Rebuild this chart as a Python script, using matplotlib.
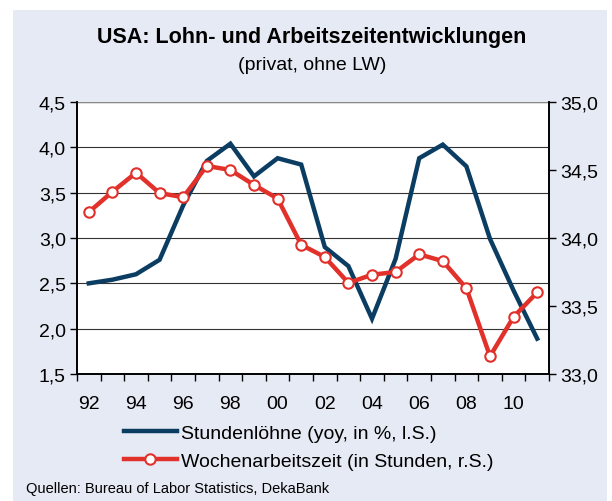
import matplotlib
matplotlib.use("Agg")
import matplotlib.pyplot as plt
import numpy as np
from matplotlib.ticker import FuncFormatter, FixedLocator
from matplotlib.lines import Line2D

plt.rcParams['font.family'] = ['Liberation Sans', 'DejaVu Sans']

years = list(range(1992, 2012))
tick_labels = ["92", "94", "96", "98", "00", "02", "04", "06", "08", "10"]
wages = [2.50, 2.54, 2.60, 2.76, 3.36, 3.85, 4.04, 3.68, 3.88, 3.81,
         2.90, 2.69, 2.11, 2.77, 3.88, 4.03, 3.79, 2.99, 2.42, 1.89]
hours = [34.19, 34.34, 34.48, 34.33, 34.30, 34.53, 34.50, 34.39, 34.29, 33.95,
         33.86, 33.67, 33.73, 33.75, 33.88, 33.83, 33.63, 33.13, 33.42, 33.60]

label_wages = "Stundenlöhne (yoy, in %, l.S.)"
label_hours = "Wochenarbeitszeit (in Stunden, r.S.)"
title = "USA: Lohn- und Arbeitszeitentwicklungen"
subtitle = "(privat, ohne LW)"
source = "Quellen: Bureau of Labor Statistics, DekaBank"

blue = "#0B3D62"
red = "#E2302A"
bg = "#E6EAF4"
FS = 14

fig = plt.figure(figsize=(6.12, 5.02), dpi=100)
fig.patch.set_facecolor("white")

# panel background
bgax = fig.add_axes([13/612, 0, (607-13)/612, 1 - 11/502], zorder=-10)
bgax.set_facecolor(bg)
bgax.set_xticks([]); bgax.set_yticks([])
for s in bgax.spines.values():
    s.set_visible(False)

ax = fig.add_axes([77/612, 1 - 375/502, (549-77)/612, (375-103)/502])
ax.set_facecolor("white")
ax2 = ax.twinx()

x = np.arange(len(years)) + 0.5
ax.plot(x, wages, color=blue, lw=3.2, solid_joinstyle="miter", zorder=3)
ax2.plot(x, hours, color=red, lw=3.2, marker="o", ms=7.5, mfc="white", mec=red, mew=1.5, zorder=3)

ax.set_xlim(0, len(years))
ax.set_ylim(1.5, 4.5)
ax2.set_ylim(33.0, 35.0)
ax.set_yticks(np.arange(1.5, 4.51, 0.5))
ax2.set_yticks(np.arange(33.0, 35.01, 0.5))
fmt = FuncFormatter(lambda v, p: f"{v:.1f}".replace(".", ","))
ax.yaxis.set_major_formatter(fmt)
ax2.yaxis.set_major_formatter(fmt)

ax.set_xticks(np.arange(0, len(years) + 1))
ax.set_xticklabels([])
ax.xaxis.set_minor_locator(FixedLocator([i * 2 + 0.5 for i in range(len(tick_labels))]))
ax.set_xticklabels(tick_labels, minor=True)
ax.tick_params(axis="x", which="minor", length=0, labelsize=FS, pad=15)
ax.tick_params(axis="x", which="major", length=5, width=1, direction="out", color="black")
ax.tick_params(axis="y", length=5, width=1, labelsize=FS, pad=3)
ax2.tick_params(axis="y", length=5, width=1, labelsize=FS, pad=3)

ax.grid(axis="y", color="#333333", lw=0.8)
ax.set_axisbelow(True)
for a in (ax, ax2):
    a.spines["top"].set_visible(False)
    for s in ("left", "right", "bottom"):
        a.spines[s].set_linewidth(1.2)
        a.spines[s].set_color("black")
ax.axhline(4.5, color="#888888", lw=1.0, zorder=1)

fig.text(312/612, 1 - 38/502, title, ha="center", va="center", fontsize=15.5, fontweight="bold")
fig.text(312/612, 1 - 65/502, subtitle, ha="center", va="center", fontsize=14)
fig.text(26/612, 1 - 489/502, source, ha="left", va="center", fontsize=10.5)

h1 = Line2D([], [], color=blue, lw=3.2)
h2 = Line2D([], [], color=red, lw=3.2, marker="o", ms=7.5, mfc="white", mec=red, mew=1.5)
fig.legend([h1, h2], [label_wages, label_hours], loc="center left",
           bbox_to_anchor=(124/612, 1 - 448/502), frameon=False, fontsize=FS,
           handlelength=2.7, handletextpad=0.25, labelspacing=0.55,
           borderpad=0, borderaxespad=0)

fig.savefig("out.png", dpi=100)
